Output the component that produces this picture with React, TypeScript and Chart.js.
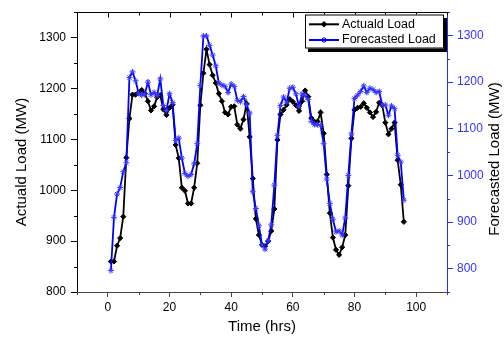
import React, { useEffect, useRef } from 'react';
import { Chart, registerables } from 'chart.js';

Chart.register(...registerables);

const FONT = "'Liberation Sans', Arial, Helvetica, sans-serif";

// time index (hrs)
const hours: number[] = Array.from({ length: 96 }, (_, i) => i + 1);

const actualLoad: number[] = [
  860, 860, 891, 906, 948, 1064, 1141, 1188, 1188, 1192,
  1197, 1190, 1175, 1157, 1165, 1183, 1187, 1159, 1148, 1162,
  1168, 1089, 1063, 1005, 999, 974, 974, 1005, 1053, 1167,
  1230, 1277, 1247, 1226, 1211, 1190, 1175, 1153, 1149, 1164,
  1165, 1129, 1121, 1139, 1170, 1105, 1023, 944, 912, 893,
  890, 900, 920, 963, 1099, 1149, 1158, 1168, 1179, 1174,
  1167, 1156, 1175, 1196, 1184, 1142, 1135, 1135, 1153, 1112,
  1031, 955, 907, 883, 873, 888, 912, 1009, 1102, 1158,
  1162, 1164, 1171, 1162, 1153, 1144, 1154, 1172, 1167, 1133,
  1110, 1121, 1133, 1059, 1011, 938,
];

const forecastLoad: number[] = [
  796, 910, 960, 974, 1008, 1027, 1210, 1222, 1203, 1176,
  1172, 1174, 1200, 1173, 1178, 1171, 1207, 1150, 1139, 1175,
  1156, 1075, 1080, 1037, 1004, 998, 1002, 1025, 1068, 1193,
  1299, 1299, 1279, 1258, 1235, 1198, 1194, 1191, 1178, 1196,
  1191, 1161, 1158, 1169, 1151, 1134, 965, 929, 892, 851,
  842, 860, 894, 979, 1086, 1150, 1168, 1157, 1187, 1189,
  1175, 1148, 1175, 1171, 1163, 1116, 1109, 1109, 1107, 1068,
  992, 940, 906, 879, 881, 872, 909, 1000, 1089, 1165,
  1172, 1180, 1192, 1178, 1187, 1184, 1178, 1180, 1151, 1151,
  1129, 1149, 1143, 1043, 1029, 947,
];

const xTicks: number[] = [0, 20, 40, 60, 80, 100];
const xMinorTicks: number[] = [-10, 10, 30, 50, 70, 90, 110];
const yLeftTicks: number[] = [800, 900, 1000, 1100, 1200, 1300];
const yLeftMinorTicks: number[] = [850, 950, 1050, 1150, 1250, 1350];
const yRightTicks: number[] = [800, 900, 1000, 1100, 1200, 1300];
const yRightMinorTicks: number[] = [750, 850, 950, 1050, 1150, 1250, 1350];

const BLUE = '#0000ff';
const BLUE_AXIS = '#2b2bff';
const BLUE_TEXT = '#3535ff';

const decorPlugin = {
  id: 'decor',
  afterDraw(chart: any) {
    const { ctx, chartArea: ca, scales } = chart;
    const xs = scales.x;
    const yl = scales.y;
    const yr = scales.y2;
    ctx.save();
    ctx.lineWidth = 1;

    // bottom minor ticks
    ctx.strokeStyle = '#444';
    ctx.beginPath();
    xMinorTicks.forEach((v) => {
      const px = Math.round(xs.getPixelForValue(v)) + 0.5;
      ctx.moveTo(px, ca.bottom);
      ctx.lineTo(px, ca.bottom + 3);
    });
    ctx.stroke();

    // left minor ticks
    ctx.strokeStyle = '#000';
    ctx.beginPath();
    yLeftMinorTicks.forEach((v) => {
      const py = Math.round(yl.getPixelForValue(v)) + 0.5;
      ctx.moveTo(ca.left - 3, py);
      ctx.lineTo(ca.left, py);
    });
    ctx.stroke();

    // right minor ticks
    ctx.strokeStyle = BLUE_AXIS;
    ctx.beginPath();
    yRightMinorTicks.forEach((v) => {
      const py = Math.round(yr.getPixelForValue(v)) + 0.5;
      ctx.moveTo(ca.right, py);
      ctx.lineTo(ca.right + 3, py);
    });
    ctx.stroke();

    // top axis with inward ticks
    ctx.strokeStyle = '#000';
    ctx.beginPath();
    const ty = Math.round(ca.top) + 0.5;
    ctx.moveTo(ca.left, ty);
    ctx.lineTo(ca.right, ty);
    xTicks.forEach((v) => {
      const px = Math.round(xs.getPixelForValue(v)) + 0.5;
      ctx.moveTo(px, ty);
      ctx.lineTo(px, ty + 5);
    });
    xMinorTicks.forEach((v) => {
      const px = Math.round(xs.getPixelForValue(v)) + 0.5;
      ctx.moveTo(px, ty);
      ctx.lineTo(px, ty + 3);
    });
    ctx.stroke();

    // legend box with shadow
    const bx = 305, by = 14.5, bw = 139, bh = 34;
    ctx.fillStyle = '#000';
    ctx.fillRect(bx + 3, by + 3.5, bw, bh);
    ctx.fillStyle = '#fff';
    ctx.fillRect(bx, by, bw, bh);
    ctx.strokeStyle = '#000';
    ctx.strokeRect(bx + 0.5, by + 0.5, bw - 1, bh - 1);

    const rows = chart.data.datasets.map((ds: any, i: number) => ({
      label: ds.label,
      color: ds.borderColor,
      style: ds.pointStyle,
      y: i === 0 ? 24.3 : 40,
    }));
    rows.forEach((r: any) => {
      ctx.strokeStyle = r.color;
      ctx.lineWidth = 2;
      ctx.beginPath();
      ctx.moveTo(309, r.y);
      ctx.lineTo(339, r.y);
      ctx.stroke();
      const mx = 324;
      ctx.lineWidth = 1;
      if (r.style === 'rectRot') {
        ctx.fillStyle = r.color;
        ctx.beginPath();
        ctx.moveTo(mx, r.y - 3.2);
        ctx.lineTo(mx + 3.2, r.y);
        ctx.lineTo(mx, r.y + 3.2);
        ctx.lineTo(mx - 3.2, r.y);
        ctx.closePath();
        ctx.fill();
      } else {
        ctx.strokeStyle = r.color;
        ctx.beginPath();
        const s = 3;
        ctx.moveTo(mx - s, r.y); ctx.lineTo(mx + s, r.y);
        ctx.moveTo(mx, r.y - s); ctx.lineTo(mx, r.y + s);
        ctx.moveTo(mx - s * 0.7, r.y - s * 0.7); ctx.lineTo(mx + s * 0.7, r.y + s * 0.7);
        ctx.moveTo(mx - s * 0.7, r.y + s * 0.7); ctx.lineTo(mx + s * 0.7, r.y - s * 0.7);
        ctx.stroke();
      }
      ctx.fillStyle = '#000';
      ctx.font = `12.5px ${FONT}`;
      ctx.textAlign = 'left';
      ctx.textBaseline = 'middle';
      ctx.fillText(r.label, 342, r.y);
    });

    // y axis titles (both read bottom-to-top)
    ctx.fillStyle = '#000';
    ctx.font = `15px ${FONT}`;
    ctx.textAlign = 'center';
    ctx.textBaseline = 'middle';
    ctx.save();
    ctx.translate(22, 162);
    ctx.rotate(-Math.PI / 2);
    ctx.fillText('Actuald Load (MW)', 0, 0);
    ctx.restore();
    ctx.save();
    ctx.translate(495, 159);
    ctx.rotate(-Math.PI / 2);
    ctx.fillText('Forecasted Load (MW)', 0, 0);
    ctx.restore();

    ctx.restore();
  },
};

export default function App() {
  const canvasRef = useRef<HTMLCanvasElement | null>(null);

  useEffect(() => {
    document.body.style.margin = '0';
    const canvas = canvasRef.current;
    if (!canvas) return;

    const chart = new Chart(canvas, {
      type: 'line',
      data: {
        datasets: [
          {
            label: 'Actuald Load',
            data: hours.map((h, i) => ({ x: h, y: actualLoad[i] })),
            yAxisID: 'y',
            borderColor: '#000000',
            backgroundColor: '#000000',
            borderWidth: 1.8,
            pointStyle: 'rectRot',
            pointRadius: 2.6,
            pointBorderWidth: 1,
            pointBackgroundColor: '#000000',
            pointBorderColor: '#000000',
            tension: 0,
            order: 1,
          },
          {
            label: 'Forecasted Load',
            data: hours.map((h, i) => ({ x: h, y: forecastLoad[i] })),
            yAxisID: 'y2',
            borderColor: BLUE,
            backgroundColor: BLUE,
            borderWidth: 1.8,
            pointStyle: 'star',
            pointRadius: 3,
            pointBorderWidth: 1,
            pointBorderColor: '#3a3aff',
            tension: 0,
            order: 0,
          },
        ],
      },
      options: {
        animation: false,
        responsive: false,
        devicePixelRatio: 1,
        layout: { padding: { top: 11, left: 0, right: 0, bottom: 0 } },
        plugins: {
          legend: { display: false },
          tooltip: { enabled: false },
        },
        scales: {
          x: {
            type: 'linear',
            position: 'bottom',
            min: -10,
            max: 110,
            afterBuildTicks: (s: any) => {
              s.ticks = xTicks.map((v) => ({ value: v }));
            },
            afterFit: (s: any) => {
              s.height = 48;
            },
            ticks: {
              font: { family: FONT, size: 12 },
              color: '#000',
              padding: 3,
              maxRotation: 0,
              callback: (v: any) => String(v),
            },
            grid: { drawOnChartArea: false, drawTicks: true, tickLength: 5, color: '#444' },
            border: { color: '#444', width: 1 },
            title: {
              display: true,
              text: 'Time (hrs)',
              font: { family: FONT, size: 15 },
              color: '#000',
              padding: { top: 0, bottom: 4 },
            },
          },
          y: {
            type: 'linear',
            position: 'left',
            min: 800,
            max: 1350,
            afterBuildTicks: (s: any) => {
              s.ticks = yLeftTicks.map((v) => ({ value: v }));
            },
            afterFit: (s: any) => {
              s.width = 77;
            },
            ticks: {
              font: { family: FONT, size: 12 },
              color: '#000',
              padding: 5,
              callback: (v: any) => String(v),
            },
            grid: { drawOnChartArea: false, drawTicks: true, tickLength: 6, color: '#000' },
            border: { color: '#000', width: 1 },
          },
          y2: {
            type: 'linear',
            position: 'right',
            min: 750,
            max: 1350,
            afterBuildTicks: (s: any) => {
              s.ticks = yRightTicks.map((v) => ({ value: v }));
            },
            afterFit: (s: any) => {
              s.width = 57;
            },
            ticks: {
              font: { family: FONT, size: 12 },
              color: BLUE_TEXT,
              padding: 4,
              callback: (v: any) => String(v),
            },
            grid: { drawOnChartArea: false, drawTicks: true, tickLength: 6, color: BLUE_AXIS },
            border: { color: BLUE_AXIS, width: 1 },
          },
        },
      },
      plugins: [decorPlugin],
    } as any);

    return () => {
      chart.destroy();
    };
  }, []);

  return (
    <div style={{ width: 504, height: 340 }}>
      <canvas ref={canvasRef} width={504} height={340} style={{ display: 'block', width: 504, height: 340 }} />
    </div>
  );
}
